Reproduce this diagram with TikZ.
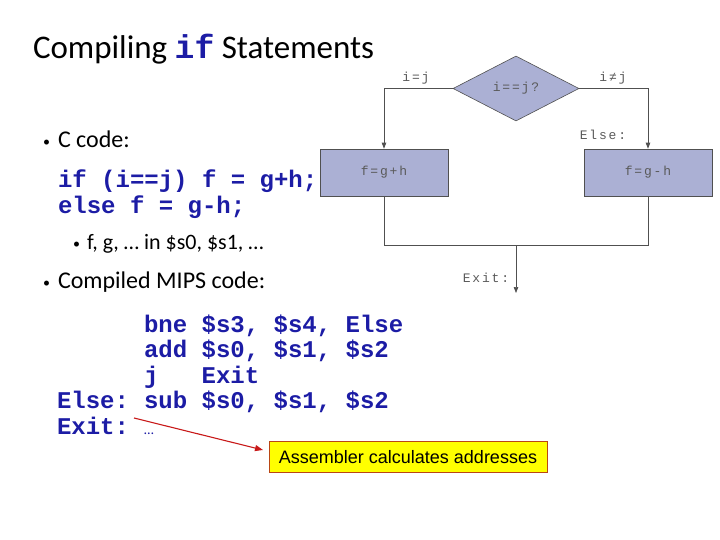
\documentclass[tikz,border=0pt]{standalone}
\usepackage{fontspec}
\setmainfont{Carlito}
\newfontfamily\codefont{Liberation Mono}
\newfontfamily\notefont{Liberation Sans}
\newfontfamily\flowfont[LetterSpace=14]{Liberation Mono}
\usetikzlibrary{shapes.geometric,arrows.meta}
\definecolor{codeblue}{RGB}{28,28,165}
\definecolor{flowfill}{RGB}{171,176,212}
\definecolor{flowline}{RGB}{80,80,80}
\definecolor{flowtext}{RGB}{90,90,90}
\definecolor{arrowred}{RGB}{200,25,25}
\definecolor{noteyellow}{RGB}{255,255,0}
\definecolor{noteborder}{RGB}{185,70,20}
\newcommand\mspc{\hphantom{x}}
\tikzset{
  txt/.style={anchor=base west, inner sep=0pt, outer sep=0pt},
  bodytxt/.style={txt, font=\fontsize{24}{28}\selectfont},
  subtxt/.style={txt, font=\fontsize{22}{26}\selectfont},
  bul/.style={txt, font=\fontsize{14}{18}\selectfont},
  codetxt/.style={txt, font=\fontsize{24}{28}\selectfont\codefont\bfseries, text=codeblue},
  flowbox/.style={draw=flowline, fill=flowfill, line width=0.6pt, minimum width=128pt, minimum height=47pt, inner sep=0pt, font=\fontsize{13}{15}\selectfont\flowfont, text=flowtext},
  flowdec/.style={diamond, draw=flowline, fill=flowfill, line width=0.6pt, minimum width=126pt, minimum height=65pt, inner sep=0pt, font=\fontsize{13}{15}\selectfont\flowfont, text=flowtext},
  flowlbl/.style={inner sep=0pt, font=\fontsize{13}{15}\selectfont\flowfont, text=flowtext},
  flowln/.style={draw=flowline, line width=0.7pt},
  flowarr/.style={flowln, -{Triangle[length=6pt,width=4.5pt]}},
  notebox/.style={draw=noteborder, fill=noteyellow, line width=0.8pt, minimum width=278pt, minimum height=31pt, inner sep=0pt, font=\fontsize{18}{21}\selectfont\notefont},
  redarr/.style={draw=arrowred, line width=1.1pt, -{Triangle[length=8pt,width=6pt]}}
}
\begin{document}
\begin{tikzpicture}[x=1pt,y=-1pt]
\useasboundingbox (0,0) rectangle (720,540);
% title
\node[txt, font=\fontsize{33}{39}\selectfont] (title) at (33,59) {Compiling {\codefont\bfseries\color{codeblue}if} Statements};
% bullets
\node[bul] (bu1) at (43,147) {\textbullet};
\node[bodytxt] (t1) at (58,148) {C code:};
\node[codetxt] (c1) at (58,188) {if (i==j) f = g+h;};
\node[codetxt] (c2) at (58,214) {else f = g-h;};
\node[bul] (bu2) at (73,248) {\textbullet};
\node[subtxt] (t2) at (87,249) {f, g, … in \$s0, \$s1, …};
\node[bul] (bu3) at (43,287) {\textbullet};
\node[bodytxt] (t3) at (58,288) {Compiled MIPS code:};
% MIPS code
\node[codetxt] (m1) at (144,332) {bne\mspc\$s3,\mspc\$s4,\mspc Else};
\node[codetxt] (m2) at (144,357.5) {add\mspc\$s0,\mspc\$s1,\mspc\$s2};
\node[codetxt] (m3) at (144,383) {j\mspc\mspc\mspc Exit};
\node[codetxt] (l4) at (57,408.5) {Else:};
\node[codetxt] (m4) at (144,408.5) {sub\mspc\$s0,\mspc\$s1,\mspc\$s2};
\node[codetxt] (l5) at (57,434) {Exit:};
\node[txt, font=\fontsize{14}{16}\selectfont, text=codeblue] (m5) at (144,434) {…};
% note
\node[notebox] (note) at (408,457) {Assembler calculates addresses};
\coordinate (arrS) at (134,418);
\coordinate (arrE) at (263,450);
\draw[redarr] (arrS) -- (arrE);
% flowchart
\node[flowdec] (dec) at (516,88.5) {i==j?};
\node[flowbox] (bl) at (384,172.5) {f=g+h};
\node[flowbox] (br) at (648,172.5) {f=g-h};
\coordinate (jl) at (384,245);
\coordinate (jr) at (648,245);
\coordinate (jc) at (516,245);
\coordinate (exitend) at (516,293);
\draw[flowarr] (dec.west) -| (bl.north);
\draw[flowarr] (dec.east) -| (br.north);
\draw[flowln] (bl.south) -- (jl) -- (jr) -- (br.south);
\draw[flowarr] (jc) -- (exitend);
\node[flowlbl] (lij) at (416,78) {i=j};
\node[flowlbl] (lnij) at (613,78) {i≠j};
\node[flowlbl] (lelse) at (603,135) {Else:};
\node[flowlbl] (lexit) at (486,278) {Exit:};
\end{tikzpicture}
\end{document}
